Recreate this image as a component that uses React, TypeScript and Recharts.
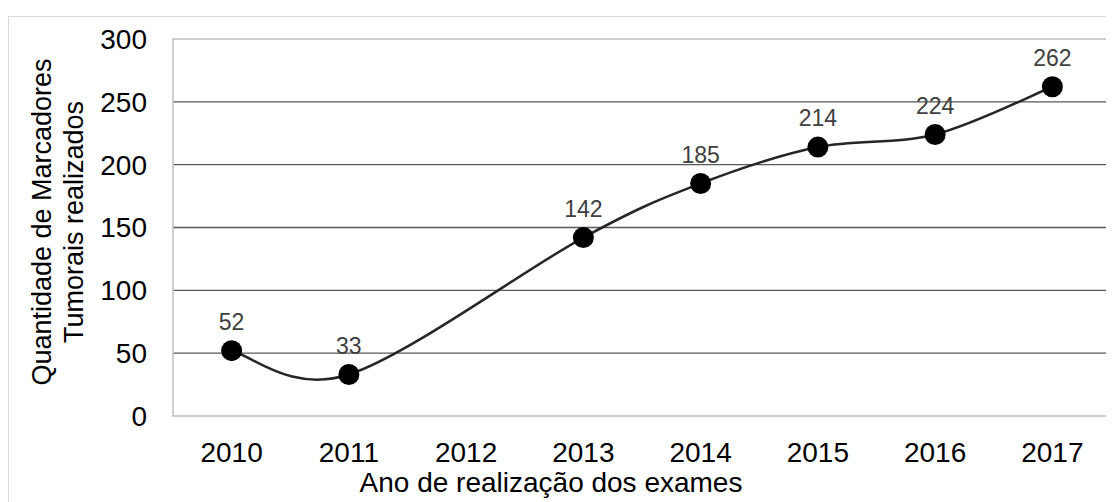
import { CartesianGrid, LabelList, Line, LineChart, ReferenceArea, XAxis, YAxis } from "recharts";

const anos = ["2010", "2011", "2012", "2013", "2014", "2015", "2016", "2017"];
const exames = [52, 33, null, 142, 185, 214, 224, 262];
const yTicks = [0, 50, 100, 150, 200, 250, 300];
const gridValues = [50, 100, 150, 200, 250];

const data = anos.map((ano, i) => ({ ano, exames: exames[i] }));

const FONT = "'Liberation Sans', Arial, sans-serif";

// curva suave tipo Excel (Catmull-Rom)
function suave(context: any) {
  let pts: number[][] = [];
  return {
    areaStart() {},
    areaEnd() {},
    lineStart() {
      pts = [];
    },
    point(x: number, y: number) {
      pts.push([+x, +y]);
    },
    lineEnd() {
      if (!pts.length) return;
      context.moveTo(pts[0][0], pts[0][1]);
      for (let i = 0; i < pts.length - 1; i++) {
        const p0 = pts[i - 1] || pts[i];
        const p1 = pts[i];
        const p2 = pts[i + 1];
        const p3 = pts[i + 2] || p2;
        context.bezierCurveTo(
          p1[0] + (p2[0] - p0[0]) / 6,
          p1[1] + (p2[1] - p0[1]) / 6,
          p2[0] - (p3[0] - p1[0]) / 6,
          p2[1] - (p3[1] - p1[1]) / 6,
          p2[0],
          p2[1]
        );
      }
    },
  };
}

function TituloY() {
  return (
    <g fontFamily={FONT} fontSize={27} fill="#000">
      <text x={42} y={205} textAnchor="middle" transform="rotate(-90, 42, 205)">
        Quantidade de Marcadores
      </text>
      <text x={74} y={205} textAnchor="middle" transform="rotate(-90, 74, 205)">
        Tumorais realizados
      </text>
    </g>
  );
}

function TituloX() {
  return (
    <text x={542} y={475} textAnchor="middle" fontFamily={FONT} fontSize={28} fill="#000">
      Ano de realização dos exames
    </text>
  );
}

export default function App() {
  return (
    <div style={{ paddingTop: 8 }}>
      <div style={{ borderTop: "1px solid #d9d9d9", borderLeft: "1px solid #d9d9d9", width: 1105, height: 485 }}>
        <LineChart width={1105} height={485} data={data} margin={{ top: 22, right: 3, bottom: 56, left: 64 }}>
          <CartesianGrid vertical={false} horizontalValues={gridValues} stroke="#595959" strokeWidth={1.3} />
          <ReferenceArea y1={0} y2={300} fill="none" stroke="#bfbfbf" strokeWidth={1.5} />
          <XAxis
            dataKey="ano"
            scale="band"
            height={30}
            axisLine={false}
            tickLine={false}
            tickSize={0}
            tickMargin={26}
            tick={{ fontFamily: FONT, fontSize: 28, fill: "#000" }}
            label={<TituloX />}
          />
          <YAxis
            domain={[0, 300]}
            ticks={yTicks}
            width={100}
            axisLine={false}
            tickLine={false}
            tickSize={0}
            tickMargin={26}
            tick={{ fontFamily: FONT, fontSize: 28, fill: "#000" }}
            label={<TituloY />}
          />
          <Line
            dataKey="exames"
            type={suave as any}
            connectNulls
            stroke="#262626"
            strokeWidth={2.5}
            dot={{ r: 10.5, fill: "#000", stroke: "#000", strokeWidth: 0 }}
            activeDot={false}
            isAnimationActive={false}
          >
            <LabelList dataKey="exames" position="top" offset={21} fontFamily={FONT} fontSize={23} fill="#404040" />
          </Line>
        </LineChart>
      </div>
    </div>
  );
}
